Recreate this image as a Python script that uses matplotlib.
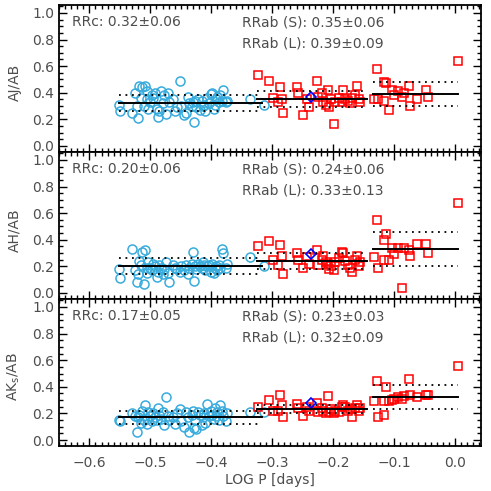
import numpy as np
import matplotlib
matplotlib.use('Agg')
import matplotlib.pyplot as plt
from matplotlib.ticker import MultipleLocator

# RRc stars: log period and amplitude ratios (J, H, Ks over B)
logp_c = [-0.552, -0.550, -0.530, -0.525, -0.522, -0.521, -0.518, -0.516, -0.513, -0.511,
          -0.508, -0.506, -0.505, -0.503, -0.500, -0.497, -0.495, -0.492, -0.489, -0.487,
          -0.485, -0.482, -0.480, -0.478, -0.474, -0.471, -0.469, -0.463, -0.460, -0.457,
          -0.452, -0.450, -0.444, -0.441, -0.438, -0.436, -0.432, -0.430, -0.428, -0.427,
          -0.425, -0.421, -0.418, -0.415, -0.413, -0.412, -0.410, -0.407, -0.404, -0.401,
          -0.398, -0.396, -0.394, -0.392, -0.390, -0.388, -0.385, -0.383, -0.380, -0.376,
          -0.374, -0.336, -0.314]
aj_c = [0.31, 0.26, 0.25, 0.40, 0.30, 0.21, 0.45, 0.36, 0.44, 0.30,
        0.45, 0.41, 0.35, 0.28, 0.33, 0.38, 0.36, 0.40, 0.28, 0.22,
        0.26, 0.41, 0.32, 0.38, 0.24, 0.40, 0.33, 0.35, 0.26, 0.29,
        0.49, 0.30, 0.23, 0.25, 0.37, 0.32, 0.30, 0.33, 0.18, 0.34,
        0.29, 0.35, 0.27, 0.34, 0.30, 0.31, 0.26, 0.36, 0.32, 0.39,
        0.40, 0.28, 0.31, 0.35, 0.37, 0.33, 0.38, 0.34, 0.42, 0.33,
        0.34, 0.35, 0.31]
ah_c = [0.18, 0.11, 0.33, 0.17, 0.08, 0.14, 0.24, 0.21, 0.31, 0.07,
        0.32, 0.19, 0.15, 0.23, 0.19, 0.17, 0.22, 0.20, 0.12, 0.16,
        0.21, 0.19, 0.14, 0.18, 0.23, 0.15, 0.08, 0.21, 0.19, 0.18,
        0.16, 0.20, 0.17, 0.21, 0.14, 0.19, 0.22, 0.31, 0.09, 0.20,
        0.18, 0.22, 0.20, 0.19, 0.23, 0.21, 0.17, 0.20, 0.21, 0.16,
        0.22, 0.15, 0.19, 0.20, 0.17, 0.21, 0.19, 0.33, 0.30, 0.19,
        0.22, 0.27, 0.20]
ak_c = [0.15, 0.14, 0.20, 0.18, 0.06, 0.17, 0.19, 0.13, 0.22, 0.15,
        0.26, 0.16, 0.12, 0.21, 0.18, 0.14, 0.20, 0.17, 0.15, 0.24,
        0.19, 0.16, 0.21, 0.11, 0.32, 0.18, 0.15, 0.17, 0.12, 0.20,
        0.23, 0.14, 0.10, 0.21, 0.17, 0.06, 0.19, 0.22, 0.09, 0.15,
        0.08, 0.21, 0.19, 0.11, 0.17, 0.20, 0.13, 0.27, 0.18, 0.22,
        0.19, 0.16, 0.24, 0.18, 0.21, 0.15, 0.26, 0.22, 0.18, 0.14,
        0.20, 0.21, 0.21]

# RRab stars
logp_ab = [-0.323, -0.306, -0.298, -0.290, -0.287, -0.284, -0.282, -0.260, -0.257, -0.249,
           -0.243, -0.240, -0.227, -0.224, -0.219, -0.216, -0.212, -0.208, -0.207, -0.203,
           -0.199, -0.197, -0.190, -0.185, -0.183, -0.180, -0.176, -0.172, -0.169, -0.164,
           -0.161, -0.158, -0.156, -0.133, -0.128, -0.127, -0.117, -0.114, -0.116, -0.109,
           -0.104, -0.100, -0.093, -0.087, -0.083, -0.076, -0.074, -0.062, -0.047, -0.045,
           0.005]
aj_ab = [0.53, 0.49, 0.36, 0.33, 0.44, 0.35, 0.25, 0.44, 0.40, 0.23,
         0.35, 0.29, 0.49, 0.37, 0.40, 0.33, 0.31, 0.42, 0.29, 0.35,
         0.165, 0.33, 0.36, 0.33, 0.42, 0.35, 0.34, 0.32, 0.36, 0.38,
         0.45, 0.35, 0.33, 0.35, 0.58, 0.35, 0.48, 0.47, 0.34, 0.27,
         0.42, 0.38, 0.41, 0.37, 0.40, 0.45, 0.30, 0.35, 0.42, 0.37,
         0.64]
ah_ab = [0.35, 0.39, 0.25, 0.21, 0.36, 0.28, 0.14, 0.30, 0.25, 0.19,
         0.27, 0.22, 0.32, 0.21, 0.25, 0.28, 0.23, 0.22, 0.18, 0.20,
         0.17, 0.23, 0.26, 0.31, 0.30, 0.24, 0.21, 0.19, 0.16, 0.25,
         0.28, 0.20, 0.23, 0.27, 0.55, 0.19, 0.40, 0.44, 0.25, 0.25,
         0.34, 0.29, 0.34, 0.04, 0.34, 0.32, 0.28, 0.37, 0.37, 0.30,
         0.68]
ak_ab = [0.25, 0.30, 0.22, 0.22, 0.34, 0.26, 0.17, 0.27, 0.24, 0.18,
         0.25, 0.22, 0.28, 0.21, 0.24, 0.22, 0.20, 0.33, 0.21, 0.23,
         0.20, 0.22, 0.21, 0.25, 0.26, 0.25, 0.22, 0.23, 0.17, 0.24,
         0.26, 0.22, 0.24, 0.29, 0.44, 0.175, 0.29, 0.40, 0.19, 0.29,
         0.30, 0.31, 0.32, 0.31, 0.33, 0.46, 0.34, 0.32, 0.34, 0.34,
         0.555]

# highlighted star (blue diamond)
logp_sp = -0.236
ratio_sp = [0.37, 0.29, 0.28]

# mean and sigma per group: RRc, RRab (S), RRab (L)
mean_c = [0.32, 0.20, 0.17]
sig_c = [0.06, 0.06, 0.05]
mean_s = [0.35, 0.24, 0.23]
sig_s = [0.06, 0.06, 0.03]
mean_l = [0.39, 0.33, 0.32]
sig_l = [0.09, 0.13, 0.09]

ylabels = ['AJ/AB', 'AH/AB', 'AK$_\\mathrm{s}$/AB']
ratios_c = [aj_c, ah_c, ak_c]
ratios_ab = [aj_ab, ah_ab, ak_ab]

# x ranges of the mean lines
rng_c = (-0.552, -0.316)
rng_s = (-0.325, -0.145)
rng_l = (-0.134, 0.005)

txt_col = '#4d4d4d'
plt.rcParams['font.family'] = 'DejaVu Sans'
plt.rcParams['font.size'] = 10

fig = plt.figure(figsize=(4.91, 4.91), dpi=100)
gs = fig.add_gridspec(3, 1, left=0.120, right=0.980, top=0.990, bottom=0.0916, hspace=0)

for i in range(3):
    ax = fig.add_subplot(gs[i])
    ax.plot(logp_c, ratios_c[i], 'o', mfc='none', mec='#38abdd', ms=6.5, mew=1.1)
    ax.plot(logp_ab, ratios_ab[i], 's', mfc='none', mec='#ff0000', ms=6.0, mew=1.1)
    ax.plot(logp_sp, ratio_sp[i], 'D', mfc='none', mec='#0000ff', ms=5.5, mew=1.2)

    for (x0, x1), m, s in [(rng_c, mean_c[i], sig_c[i]),
                           (rng_s, mean_s[i], sig_s[i]),
                           (rng_l, mean_l[i], sig_l[i])]:
        ax.plot([x0, x1], [m, m], color='black', lw=1.4)
        ax.plot([x0, x1], [m + s, m + s], color='black', lw=1.3, ls=(0, (1, 2.6)))
        ax.plot([x0, x1], [m - s, m - s], color='black', lw=1.3, ls=(0, (1, 2.6)))

    ax.text(-0.629, 0.93, f'RRc: {mean_c[i]:.2f}\u00b1{sig_c[i]:.2f}', va='center', color=txt_col)
    ax.text(-0.35, 0.93, f'RRab (S): {mean_s[i]:.2f}\u00b1{sig_s[i]:.2f}', va='center', color=txt_col)
    ax.text(-0.35, 0.77, f'RRab (L): {mean_l[i]:.2f}\u00b1{sig_l[i]:.2f}', va='center', color=txt_col)

    ax.set_xlim(-0.65, 0.043)
    ax.set_ylim(-0.045, 1.06)
    ax.xaxis.set_major_locator(MultipleLocator(0.1))
    ax.xaxis.set_minor_locator(MultipleLocator(0.01))
    ax.yaxis.set_major_locator(MultipleLocator(0.2))
    ax.yaxis.set_minor_locator(MultipleLocator(0.05))
    ax.tick_params(which='both', direction='in', top=True, right=True, width=1.0, colors='black', labelcolor=txt_col)
    ax.tick_params(which='major', length=6)
    ax.tick_params(which='minor', length=3)
    ax.set_yticks(np.arange(0, 1.01, 0.2))
    ax.set_yticklabels([f'{v:.1f}' for v in np.arange(0, 1.01, 0.2)])
    for sp in ax.spines.values():
        sp.set_linewidth(1.3)
    ax.set_ylabel(ylabels[i], color=txt_col)
    ax.yaxis.set_label_coords(-0.088, 0.47)
    if i < 2:
        ax.tick_params(labelbottom=False)
    else:
        ax.set_xlabel('LOG P [days]', color=txt_col, labelpad=2)
        ax.set_xticks(np.arange(-0.6, 0.01, 0.1))
        ax.set_xticklabels(['\u22120.6', '\u22120.5', '\u22120.4', '\u22120.3', '\u22120.2', '\u22120.1', '0.0'])
        ax.tick_params(axis='x', pad=7)

fig.savefig('out.png', dpi=100)
